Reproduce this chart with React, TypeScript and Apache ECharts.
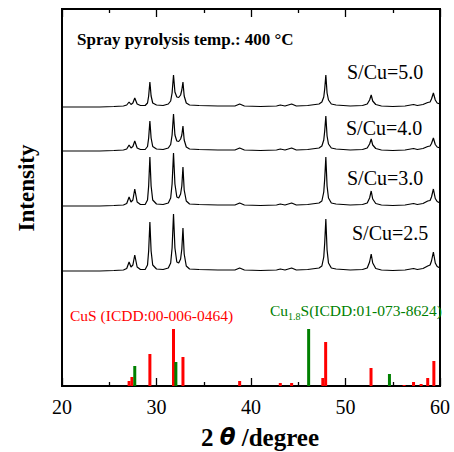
import React, { useEffect, useRef } from "react";
import * as echarts from "echarts";

// 2θ sample positions shared by all four patterns (grouped by region)
const twoTheta = [
  20, 22, 24, 25.5, 26.5,
  26.85, 27.1, 27.3, 27.5, 27.7, 27.95, 28.3,
  28.8, 29.05, 29.17, 29.3, 29.43, 29.6, 30.0,
  30.7, 31.25,
  31.5, 31.65, 31.8, 31.95, 32.15, 32.35,
  32.55, 32.68, 32.8, 32.93, 33.15, 33.5,
  34.5, 36.5, 38.3, 38.8, 39.3,
  41, 42.7, 43.1, 43.6, 44.3, 44.8, 46.0, 47.2,
  47.5, 47.7, 47.8, 47.92, 48.05, 48.2, 48.5, 49.0,
  50.5, 51.8, 52.3, 52.55, 52.72, 52.88, 53.2, 53.8,
  55.0, 56.3, 57.2, 57.6, 58.2, 58.7, 58.95, 59.1, 59.3, 59.5, 59.7, 60,
];

// Intensities above each pattern's own baseline (a.u.)
const su50 = [
  0, 0, 0, 0.5, 1,
  2, 5, 2.5, 4, 9, 3, 1.5,
  1.5, 4, 11, 25, 11, 4, 2,
  1.5, 3,
  6, 14, 32, 15, 10, 9.5,
  12, 17, 25, 11, 4, 2,
  1.5, 1, 1, 3, 1,
  0.5, 1, 2, 1, 3, 1, 1.5, 3,
  5, 10, 18, 32, 14, 7, 3, 2,
  1, 1.5, 3, 7, 12, 6, 2.5, 1,
  0.5, 1, 2.5, 1.5, 2.5, 4.5, 5, 8, 14, 7, 4, 3,
];
const su40 = [
  0, 0, 0, 0.5, 1,
  2, 6, 3, 4.5, 10, 3, 1.5,
  1.5, 4.5, 13, 30, 13, 4.5, 2,
  1.5, 3,
  6.5, 16, 37, 16, 10, 9.5,
  12, 16, 25, 11, 4, 2,
  1.5, 1, 1, 3, 1,
  0.5, 1, 2, 1, 3, 1, 1.5, 3,
  5, 11, 20, 35, 15, 7, 3, 2,
  1, 1.5, 3, 7, 12, 6, 2.5, 1,
  0.5, 1, 2.5, 1.5, 2.5, 4.5, 5, 7.5, 13, 6.5, 4, 3,
];
const su30 = [
  0, 0, 0, 0.5, 1,
  2.5, 9, 4, 6, 17, 4, 1.5,
  1.5, 6, 20, 49, 20, 6, 2,
  1.5, 3,
  8, 22, 53, 22, 9, 8,
  12, 20, 39, 16, 5, 2,
  1.5, 1, 1, 3, 1,
  0.5, 1, 2, 1, 3, 1, 1.5, 3,
  5, 14, 27, 49, 20, 8, 3, 2,
  1, 1.5, 3, 8, 15, 7, 2.5, 1,
  0.5, 1, 2.5, 1.5, 2.5, 5, 5.5, 9, 17, 7.5, 4.5, 3,
];
const su25 = [
  0, 0, 0, 0.5, 1,
  2.5, 9, 4, 6, 16, 4, 1.5,
  1.5, 6, 20, 49, 20, 6, 2,
  1.5, 3,
  8, 23, 57, 23, 9, 8,
  12, 22, 43, 17, 5, 2,
  1.5, 1, 1, 3, 1,
  0.5, 1, 2, 1, 3, 1, 1.5, 3,
  5, 14, 28, 52, 21, 8, 3, 2,
  1, 1.5, 3, 9, 17, 8, 2.5, 1,
  0.5, 1, 2.5, 1.5, 2.5, 5, 6, 10, 19, 8, 4.5, 3,
];

// vertical offsets of the stacked patterns (a.u.)
const patternNames = ["S/Cu=5.0", "S/Cu=4.0", "S/Cu=3.0", "S/Cu=2.5"];
const patternOffsets = [279, 235, 180, 115];

// Reference patterns: [2θ, relative intensity]
const cusPos = [27.1, 27.4, 29.3, 31.8, 32.8, 38.8, 43.1, 44.3, 47.6, 47.9, 52.7, 56.2, 57.2, 58.0, 58.7, 59.35];
const cusInt = [5, 9, 32, 57, 29, 5, 3, 3, 8, 44, 18, 1, 4, 2, 8, 25];
const cu18sPos = [27.7, 32.05, 46.1, 54.65];
const cu18sInt = [20, 24, 57, 12];

const SERIF = "'Liberation Serif', 'Times New Roman', serif";

export default function App() {
  const ref = useRef<HTMLDivElement>(null);
  useEffect(() => {
    if (!ref.current) return;
    const chart = echarts.init(ref.current, undefined, { renderer: "svg" });
    const patterns = [su50, su40, su30, su25];
    const lineSeries = patterns.map((arr, i) => ({
      type: "line",
      name: patternNames[i],
      data: twoTheta.map((x, j) => [x, arr[j] + patternOffsets[i]]),
      showSymbol: false,
      symbol: "none",
      lineStyle: { color: "#000", width: 1.2 },
      z: 3,
    }));
    const tickCommon = {
      axisTick: { show: true, inside: true, length: 8, lineStyle: { color: "#000", width: 1.3 } },
      minorTick: { show: true, splitNumber: 2, length: 4, lineStyle: { color: "#000", width: 1.3 } },
      splitLine: { show: false },
      minorSplitLine: { show: false },
      axisLine: { show: true, lineStyle: { color: "#000", width: 2 } },
    };
    chart.setOption({
      animation: false,
      backgroundColor: "#fff",
      grid: {
        left: 62,
        right: 14,
        top: 9,
        bottom: 66,
        show: true,
        borderColor: "#000",
        borderWidth: 2,
      },
      xAxis: [
        {
          type: "value",
          min: 20,
          max: 60,
          interval: 10,
          position: "bottom",
          ...tickCommon,
          axisLabel: { show: true, color: "#000", fontSize: 20, fontFamily: SERIF, margin: 11 },
        },
        {
          type: "value",
          min: 20,
          max: 60,
          interval: 10,
          position: "top",
          ...tickCommon,
          axisLabel: { show: false },
        },
      ],
      yAxis: {
        type: "value",
        min: 0,
        max: 377,
        show: true,
        axisLine: { show: true, lineStyle: { color: "#000", width: 2 } },
        axisTick: { show: false },
        axisLabel: { show: false },
        splitLine: { show: false },
      },
      series: [
        ...lineSeries,
        {
          type: "bar",
          name: "CuS",
          data: cusPos.map((x, i) => [x, cusInt[i]]),
          barWidth: 3,
          barGap: "-100%",
          itemStyle: { color: "#ff0000" },
          z: 2,
        },
        {
          type: "bar",
          name: "Cu1.8S",
          data: cu18sPos.map((x, i) => [x, cu18sInt[i]]),
          barWidth: 3,
          barGap: "-100%",
          itemStyle: { color: "#008000" },
          z: 2,
        },
      ],
      graphic: [
        {
          type: "text",
          left: 77,
          top: 31,
          style: { text: "Spray pyrolysis temp.: 400 °C", fontFamily: SERIF, fontWeight: "bold", fontSize: 17, fill: "#000" },
        },
        ...[
          [347, 72],
          [346, 128],
          [347, 178],
          [352, 233],
        ].map(([x, y], i) => ({
          type: "text",
          x,
          y,
          style: { text: patternNames[i], fontFamily: SERIF, fontSize: 20, fill: "#000", verticalAlign: "middle" },
        })),
        {
          type: "text",
          x: 70,
          y: 315,
          style: { text: "CuS (ICDD:00-006-0464)", fontFamily: SERIF, fontSize: 15.5, fill: "#ff0000", verticalAlign: "middle" },
        },
        {
          type: "text",
          x: 270,
          y: 310,
          style: {
            text: "{a|Cu}{s|1.8}{a|S(ICDD:01-073-8624)}",
            verticalAlign: "middle",
            rich: {
              a: { fontFamily: SERIF, fontSize: 15.5, fill: "#008000", verticalAlign: "bottom" },
              s: { fontFamily: SERIF, fontSize: 10, fill: "#008000", verticalAlign: "bottom", padding: [0, 0, -3, 0] },
            },
          },
        },
        {
          type: "text",
          x: 260,
          y: 437,
          style: {
            text: "{a|2 }{t|θ}{a| /degree}",
            align: "center",
            verticalAlign: "middle",
            rich: {
              a: { fontFamily: SERIF, fontSize: 25, fontWeight: "bold", fill: "#000" },
              t: { fontFamily: "'DejaVu Sans', sans-serif", fontSize: 23, fontStyle: "italic", fontWeight: "bold", fill: "#000" },
            },
          },
        },
        {
          type: "text",
          x: 26,
          y: 188,
          rotation: Math.PI / 2,
          style: { text: "Intensity", fontFamily: SERIF, fontSize: 23, fontWeight: "bold", fill: "#000", align: "center", verticalAlign: "middle" },
        },
      ],
    });
    return () => chart.dispose();
  }, []);
  return <div ref={ref} style={{ position: "fixed", left: 0, top: 0, width: 454, height: 452 }} />;
}
